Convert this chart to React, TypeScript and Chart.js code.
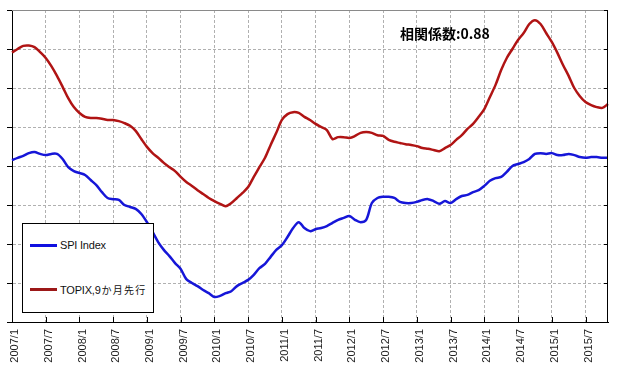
import React, { useEffect, useRef } from "react";
import { Chart, registerables } from "chart.js";

Chart.register(...registerables);

const START_YEAR = 2007;
const MONTH_COUNT = 107; // 2007/1 .. 2015/11

const TICK_LABELS = [
  "2007/1", "2007/7", "2008/1", "2008/7", "2009/1", "2009/7", "2010/1", "2010/7",
  "2011/1", "2011/7", "2012/1", "2012/7", "2013/1", "2013/7", "2014/1", "2014/7",
  "2015/1", "2015/7",
];

const MONTH_LABELS: string[] = [];
for (let i = 0; i < MONTH_COUNT; i++) {
  MONTH_LABELS.push(`${START_YEAR + Math.floor(i / 12)}/${(i % 12) + 1}`);
}

const SPI_INDEX = [
  415, 421, 426, 433, 436, 431, 428, 431, 431, 418, 397, 387,
  382, 377, 364, 351, 333, 318, 315, 313, 300, 295, 290, 277,
  256, 231, 205, 185, 169, 151, 136, 110, 100, 92, 82, 74,
  64, 67, 74, 79, 92, 100, 108, 121, 138, 149, 167, 185,
  197, 218, 241, 256, 241, 233, 238, 241, 246, 254, 262, 267,
  272, 262, 256, 262, 305, 318, 321, 321, 318, 308, 305, 305,
  308, 313, 315, 310, 303, 310, 305, 315, 323, 326, 333, 338,
  349, 362, 369, 372, 385, 400, 405, 410, 418, 431, 433, 431,
  433, 428, 428, 431, 428, 423, 421, 423, 423, 421, 421,
];

const TOPIX_9M_LEAD = [
  691, 700, 708, 709, 705, 692, 677, 656, 631, 603, 574, 551,
  536, 526, 523, 523, 521, 518, 518, 515, 510, 503, 490, 469,
  449, 433, 421, 408, 397, 387, 372, 359, 349, 338, 328, 318,
  310, 303, 297, 305, 318, 331, 346, 372, 397, 421, 454, 485,
  518, 533, 538, 536, 526, 518, 508, 500, 492, 469, 474, 474,
  472, 477, 485, 487, 485, 479, 477, 467, 462, 459, 456, 454,
  451, 446, 444, 441, 438, 446, 454, 467, 479, 495, 508, 526,
  546, 577, 608, 646, 677, 700, 723, 741, 764, 774, 764, 741,
  718, 690, 659, 631, 600, 579, 564, 556, 551, 549, 559,
];

const SERIES_NAMES = ["SPI Index", "TOPIX,9か月先行"];
const SERIES_COLORS = ["#1616d8", "#b01414"];
const LEGEND_COLORS = ["#1010e0", "#9c1818"];
const Y_MIN = 0;
const Y_MAX = 800;
const Y_STEP = 100;
const CORRELATION_TEXT = "相関係数:0.88";
const GRID_COLOR = "#b0b0b0";

const framePlugin = {
  id: "frame",
  afterDraw(chart: any) {
    const { ctx, chartArea, scales } = chart;
    const { left, right, top, bottom } = chartArea;
    const x = scales.x;
    const y = scales.y;
    ctx.save();
    ctx.setLineDash([]);
    ctx.lineWidth = 1;
    ctx.strokeStyle = "#8a8a8a";
    ctx.beginPath();
    ctx.moveTo(left, Math.round(top) + 0.5);
    ctx.lineTo(right, Math.round(top) + 0.5);
    ctx.stroke();
    ctx.strokeStyle = "#000";
    ctx.beginPath();
    ctx.moveTo(Math.round(right) - 0.5, top);
    ctx.lineTo(Math.round(right) - 0.5, bottom);
    ctx.stroke();
    for (let v = Y_MIN; v <= Y_MAX; v += Y_STEP) {
      const py = Math.round(y.getPixelForValue(v)) + 0.5;
      ctx.beginPath();
      ctx.moveTo(left - 5, py);
      ctx.lineTo(left, py);
      ctx.moveTo(right - 4, py);
      ctx.lineTo(right, py);
      ctx.stroke();
    }
    MONTH_LABELS.forEach((lab, i) => {
      if (TICK_LABELS.includes(lab) && i > 0) {
        const px = Math.round(x.getPixelForValue(i)) + 0.5;
        ctx.beginPath();
        ctx.moveTo(px, bottom - 5);
        ctx.lineTo(px, bottom);
        ctx.stroke();
      }
    });
    ctx.restore();
  },
};

export default function App() {
  const canvasRef = useRef<HTMLCanvasElement | null>(null);

  useEffect(() => {
    document.body.style.margin = "0";
    const canvas = canvasRef.current;
    if (!canvas) return;
    const chart = new Chart(canvas, {
      type: "line",
      data: {
        labels: MONTH_LABELS,
        datasets: [
          {
            label: SERIES_NAMES[0],
            data: SPI_INDEX,
            borderColor: SERIES_COLORS[0],
            borderWidth: 2.5,
            pointRadius: 0,
            tension: 0.3,
            fill: false,
          },
          {
            label: SERIES_NAMES[1],
            data: TOPIX_9M_LEAD,
            borderColor: SERIES_COLORS[1],
            borderWidth: 2.5,
            pointRadius: 0,
            tension: 0.3,
            fill: false,
          },
        ],
      },
      options: {
        responsive: false,
        animation: false,
        devicePixelRatio: 1,
        layout: { padding: { left: 0, right: 13, top: 10, bottom: 0 } },
        plugins: {
          legend: { display: false },
          tooltip: { enabled: false },
        },
        scales: {
          x: {
            type: "category",
            offset: false,
            afterFit: (s: any) => {
              s.height = 59;
            },
            grid: {
              drawTicks: false,
              color: (c: any) => (c.index === 0 ? "transparent" : GRID_COLOR),
              lineWidth: 1,
            },
            border: { display: true, color: "#000", width: 1, dash: [3, 2] },
            ticks: {
              autoSkip: false,
              minRotation: 90,
              maxRotation: 90,
              padding: 7,
              labelOffset: 3,
              color: "#222",
              font: { family: "'Liberation Sans', Arial, sans-serif", size: 11 },
              callback: (_v: any, i: number) =>
                TICK_LABELS.includes(MONTH_LABELS[i]) ? MONTH_LABELS[i] : null,
            },
          },
          y: {
            min: Y_MIN,
            max: Y_MAX,
            afterFit: (s: any) => {
              s.width = 12;
            },
            grid: {
              drawTicks: false,
              color: (c: any) =>
                c.tick && (c.tick.value === Y_MAX || c.tick.value === Y_MIN)
                  ? "transparent"
                  : GRID_COLOR,
              lineWidth: 1,
            },
            border: { display: true, color: "#000", width: 1, dash: [3, 2] },
            ticks: { display: false, stepSize: Y_STEP },
          },
        },
      },
      plugins: [framePlugin],
    });
    return () => chart.destroy();
  }, []);

  const splitName = (text: string) => {
    const m = text.match(/^([\x00-\x7f]*)(.*)$/);
    return m ? [m[1], m[2]] : [text, ""];
  };

  const legendRow = (color: string, text: string, top: number) => {
    const [latin, cjk] = splitName(text);
    return (
      <div
        style={{
          position: "absolute",
          left: 7,
          top,
          display: "flex",
          alignItems: "center",
          height: 14,
        }}
      >
        <div style={{ width: 27, height: 3, background: color }} />
        <span
          style={{
            marginLeft: 3,
            fontFamily: "'Liberation Sans', Arial, sans-serif",
            fontSize: 11,
            color: "#111",
            whiteSpace: "nowrap",
            letterSpacing: -0.2,
          }}
        >
          {latin}
          {cjk ? (
            <span
              style={{
                fontFamily: "'Noto Sans CJK JP', sans-serif",
                fontSize: 10,
                letterSpacing: 1.2,
                marginLeft: 1,
              }}
            >
              {cjk}
            </span>
          ) : null}
        </span>
      </div>
    );
  };

  return (
    <div style={{ position: "absolute", left: 0, top: 0, width: 621, height: 381, background: "#fff" }}>
      <canvas ref={canvasRef} width={621} height={381} style={{ display: "block" }} />
      <div
        style={{
          position: "absolute",
          left: 400,
          top: 24,
          fontFamily: "'Noto Sans CJK JP', sans-serif",
          fontWeight: "bold",
          fontSize: 14,
          lineHeight: "18px",
          color: "#000",
          whiteSpace: "nowrap",
        }}
      >
        {CORRELATION_TEXT}
      </div>
      <div
        style={{
          position: "absolute",
          left: 22,
          top: 223,
          width: 130,
          height: 88,
          border: "1px solid #000",
          background: "#fff",
        }}
      >
        {legendRow(LEGEND_COLORS[0], SERIES_NAMES[0], 14)}
        {legendRow(LEGEND_COLORS[1], SERIES_NAMES[1], 58)}
      </div>
    </div>
  );
}
